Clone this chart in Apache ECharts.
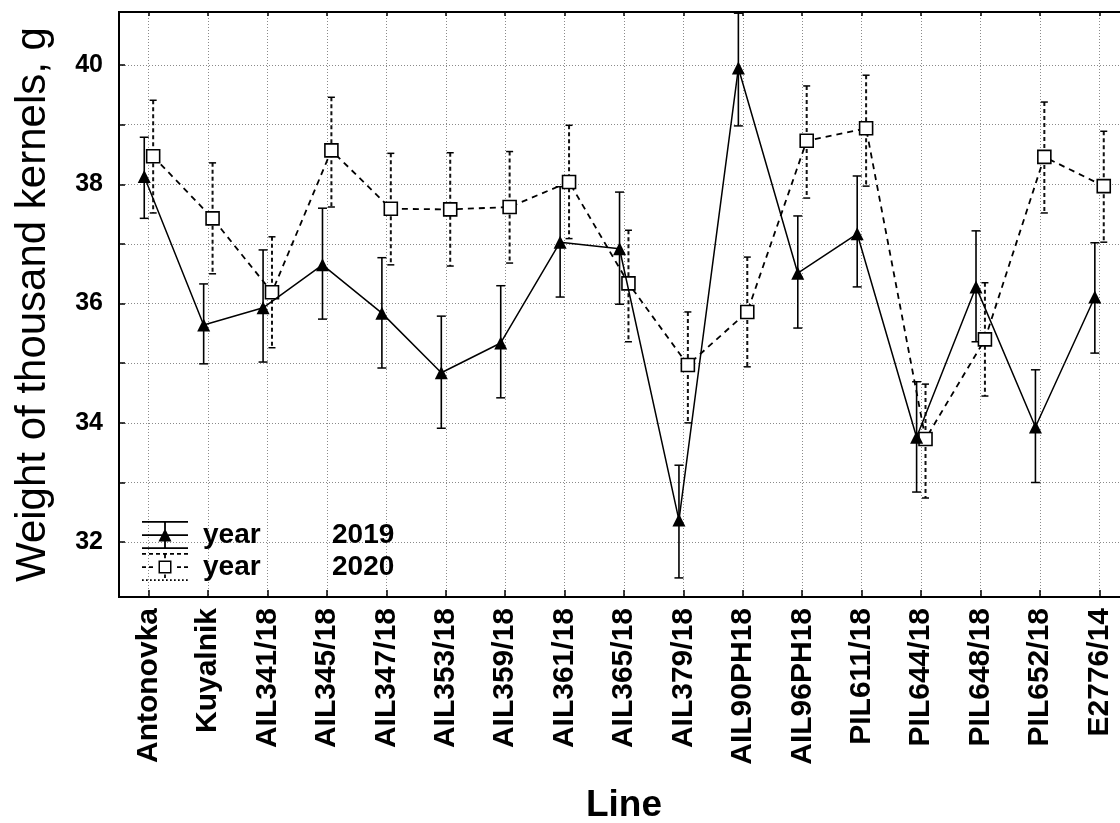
<!DOCTYPE html>
<html><head><meta charset="utf-8">
<script src="https://cdn.jsdelivr.net/npm/echarts@6/dist/echarts.min.js"></script>
<style>html,body{margin:0;padding:0;background:#fff}#c{width:1120px;height:823px}</style>
</head><body><div id="c"></div>
<script>
const categories = ['Antonovka','Kuyalnik','AIL341/18','AIL345/18','AIL347/18','AIL353/18','AIL359/18','AIL361/18','AIL365/18','AIL379/18','AIL90PH18','AIL96PH18','PIL611/18','PIL644/18','PIL648/18','PIL652/18','E2776/14'];
const mean2019 = [38.13, 35.64, 35.93, 36.65, 35.84, 34.84, 35.34, 37.03, 36.92, 32.37, 39.95, 36.51, 37.17, 33.76, 36.28, 33.93, 36.11];
const low2019  = [37.43, 34.99, 35.02, 35.74, 34.92, 33.91, 34.42, 36.11, 35.99, 31.40, 38.98, 35.59, 36.28, 32.84, 35.36, 33.00, 35.17];
const high2019 = [38.79, 36.33, 36.90, 37.60, 36.77, 35.79, 36.30, 37.96, 37.87, 33.29, 40.87, 37.47, 38.14, 34.69, 37.22, 34.89, 37.02];
const mean2020 = [38.47, 37.43, 36.19, 38.57, 37.59, 37.58, 37.62, 38.04, 36.34, 34.97, 35.86, 38.73, 38.94, 33.73, 35.40, 38.46, 37.97];
const low2020  = [37.52, 36.50, 35.26, 37.62, 36.65, 36.63, 36.68, 37.09, 35.36, 34.00, 34.94, 37.77, 37.97, 32.74, 34.45, 37.52, 37.03];
const high2020 = [39.41, 38.36, 37.12, 39.46, 38.52, 38.53, 38.55, 38.99, 37.23, 35.86, 36.78, 39.65, 39.83, 34.65, 36.35, 39.38, 38.89];
const yLabelTicks = [32, 34, 36, 38, 40];
const yMinorTicks = [32, 33, 34, 35, 36, 37, 38, 39, 40];
const seriesNames = ['year 2019', 'year 2020'];
const yRange = [31.08, 40.89];

const FONT = 'Liberation Sans, Arial, sans-serif';
const OFF = 0.075;

function rect(x, y, w, h) { return `M${x} ${y}L${x+w} ${y}L${x+w} ${y+h}L${x} ${y+h}Z`; }
function rectCCW(x, y, w, h) { return `M${x} ${y}L${x} ${y+h}L${x+w} ${y+h}L${x+w} ${y}Z`; }
// legend icons (46 x 28)
let icon2019 = rect(0,0,46,1.7) + rect(0,13.2,46,1.7) + rect(0,26.3,46,1.7) + rect(22.1,0,1.8,28) + 'M16.5 20.5L23 7.5L29.5 20.5Z';
let icon2020 = '';
for (let x = 0; x < 46; x += 7) icon2020 += rect(x, 0, Math.min(4, 46 - x), 1.7);
for (let x = 0; x < 46; x += 7) { if (x + 4 < 16 || x > 30) icon2020 += rect(x, 13.2, Math.min(4, 46 - x), 1.7); }
for (let x = 0; x < 46; x += 4) icon2020 += rect(x, 26.3, 1.7, 1.7);
icon2020 += rect(22.1, 1.7, 1.8, 3.5) + rect(22.1, 21.5, 1.8, 3.5);
icon2020 += rect(16.5, 7.5, 13, 13) + rectCCW(18, 9, 10, 10);

function errRender(capHalf, dashed) {
  return function (params, api) {
    const x = api.value(0), lo = api.value(1), hi = api.value(2);
    const t = api.coord([x, hi]), b = api.coord([x, lo]);
    const stem = dashed ? { stroke: '#111', lineWidth: 2, lineDash: [4, 3] } : { stroke: '#000', lineWidth: 1.6 };
    const cap = { stroke: '#000', lineWidth: 1.5 };
    return { type: 'group', children: [
      { type: 'line', shape: { x1: t[0], y1: t[1], x2: b[0], y2: b[1] }, style: stem },
      { type: 'line', shape: { x1: t[0] - capHalf, y1: t[1], x2: t[0] + capHalf, y2: t[1] }, style: cap },
      { type: 'line', shape: { x1: b[0] - capHalf, y1: b[1], x2: b[0] + capHalf, y2: b[1] }, style: cap }
    ]};
  };
}

const gridLine = { show: true, lineStyle: { type: [1, 2], color: '#8a8a8a', width: 1 } };

const chart = echarts.init(document.getElementById('c'), null, { renderer: 'canvas' });
chart.setOption({
  animation: false,
  backgroundColor: '#fff',
  grid: { left: 119, top: 12, width: 1010, height: 585, outerBoundsMode: 'none', containLabel: false,
    show: true, borderColor: '#000', borderWidth: 2, backgroundColor: 'transparent' },
  legend: {
    left: 142, top: 521, padding: 0, orient: 'vertical', itemWidth: 46, itemHeight: 28, itemGap: 4, selectedMode: false,
    data: [
      { name: seriesNames[0], icon: 'path://' + icon2019, itemStyle: { color: '#000', borderWidth: 0 } },
      { name: seriesNames[1], icon: 'path://' + icon2020, itemStyle: { color: '#000', borderWidth: 0 } }
    ],
    formatter: function (name) { const p = name.split(' '); return '{a|' + p[0] + '}{b|' + p[1] + '}'; },
    textStyle: { fontFamily: FONT, fontSize: 28, fontWeight: 'bold', color: '#000',
      rich: {
        a: { fontFamily: FONT, fontSize: 28, fontWeight: 'bold', color: '#000', width: 129, padding: [0, 0, 0, 10] },
        b: { fontFamily: FONT, fontSize: 28, fontWeight: 'bold', color: '#000' }
      } }
  },
  xAxis: [
    { type: 'category', data: categories, position: 'bottom', boundaryGap: true,
      name: 'Line', nameLocation: 'middle', nameGap: 190,
      nameTextStyle: { fontFamily: FONT, fontSize: 37, fontWeight: 'bold', color: '#000' },
      axisLine: { show: true, onZero: false, lineStyle: { color: '#000', width: 2 } },
      axisTick: { show: true, inside: true, length: 7, alignWithLabel: true, interval: 0, lineStyle: { color: '#000', width: 1.5 } },
      axisLabel: { rotate: 90, interval: 0, margin: 11, fontFamily: FONT, fontSize: 30, fontWeight: 'bold', color: '#000' },
      splitLine: Object.assign({ alignWithLabel: true, interval: 0 }, gridLine) },
    { type: 'value', min: -0.5, max: 16.5, show: false, position: 'bottom' },
    { type: 'category', data: categories, position: 'top', boundaryGap: true,
      axisLine: { show: true, onZero: false, lineStyle: { color: '#000', width: 2 } },
      axisTick: { show: true, inside: true, length: 4, alignWithLabel: true, interval: 0, lineStyle: { color: '#000', width: 1.5 } },
      axisLabel: { show: false }, splitLine: { show: false } }
  ],
  yAxis: {
    type: 'value', min: yRange[0], max: yRange[1], splitNumber: 10,
    name: 'Weight of thousand kernels, g', nameLocation: 'middle', nameGap: 65,
    nameTextStyle: { fontFamily: FONT, fontSize: 42, color: '#000' },
    axisLine: { show: true, onZero: false, lineStyle: { color: '#000', width: 2 } },
    axisTick: { show: true, inside: true, length: 6, customValues: yMinorTicks, lineStyle: { color: '#000', width: 1.5 } },
    axisLabel: { customValues: yLabelTicks, margin: 16, fontFamily: FONT, fontSize: 25, fontWeight: 'bold', color: '#000' },
    splitLine: gridLine
  },
  series: [
    { type: 'custom', name: 'err2020', xAxisIndex: 1, z: 2, renderItem: errRender(3.5, true),
      encode: { x: 0, y: [1, 2] }, data: mean2020.map((m, i) => [i + OFF, low2020[i], high2020[i]]) },
    { type: 'custom', name: 'err2019', xAxisIndex: 1, z: 2, renderItem: errRender(4.5, false),
      encode: { x: 0, y: [1, 2] }, data: mean2019.map((m, i) => [i - OFF, low2019[i], high2019[i]]) },
    { type: 'line', name: seriesNames[1], xAxisIndex: 1, z: 3, data: mean2020.map((v, i) => [i + OFF, v]),
      symbol: 'rect', symbolSize: 13,
      lineStyle: { color: '#000', width: 1.8, type: [6, 5] },
      itemStyle: { color: '#fff', borderColor: '#000', borderWidth: 1.6 } },
    { type: 'line', name: seriesNames[0], xAxisIndex: 1, z: 4, data: mean2019.map((v, i) => [i - OFF, v]),
      symbol: 'triangle', symbolSize: 13,
      lineStyle: { color: '#000', width: 1.5 },
      itemStyle: { color: '#000', borderWidth: 0 } }
  ]
});
</script>
</body></html>
